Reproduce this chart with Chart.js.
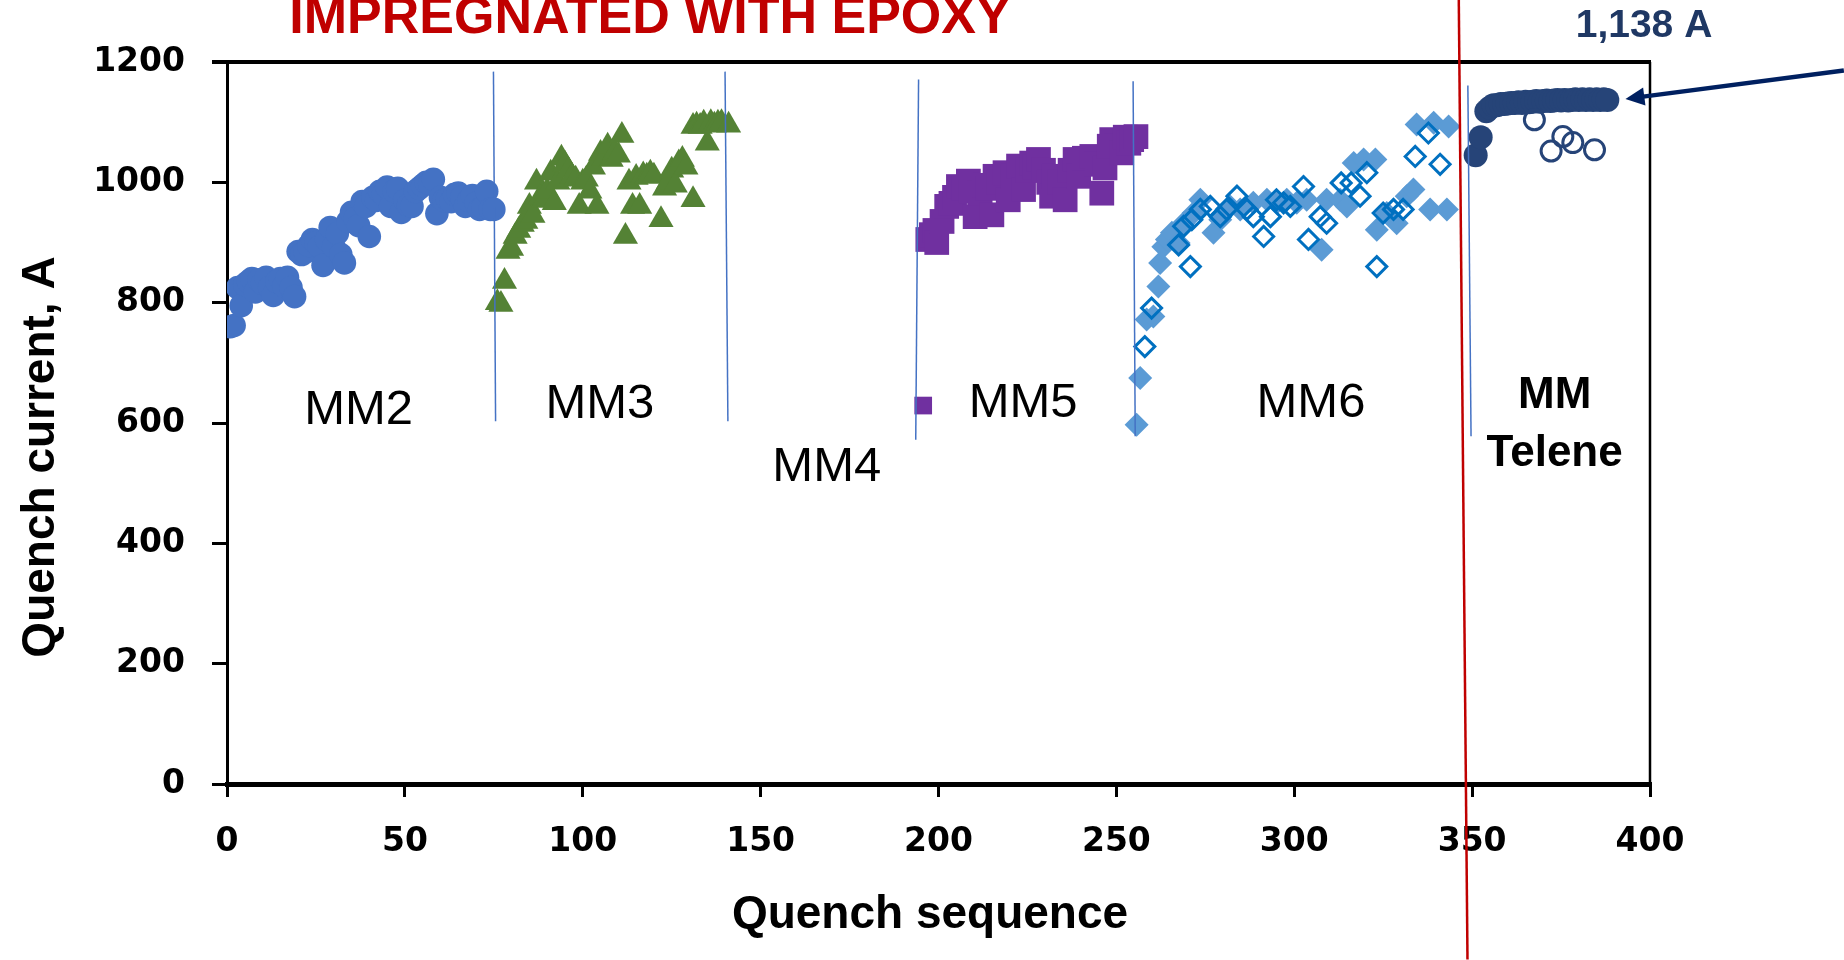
<!DOCTYPE html>
<html>
<head>
<meta charset="utf-8">
<script src="https://cdn.jsdelivr.net/npm/chart.js@4"></script>
<style>
  html, body { margin: 0; padding: 0; background: #fff; }
  #wrap { width: 1844px; height: 960px; position: relative; }
</style>
</head>
<body>
<div id="wrap"><canvas id="js-quench-chart"></canvas></div>
<script>
// Quench data: [quench sequence, quench current A]
const mm2 = [[1,760],[2,762],[3,825],[4,795],[5,830],[6,835],[7,840],[8,818],[9,838],[10,832],[11,842],[12,825],[13,812],[14,835],[15,840],[16,828],[17,842],[18,825],[19,810],[20,885],[21,880],[22,884],[23,895],[24,905],[25,900],[26,893],[27,862],[28,905],[29,925],[30,893],[31,915],[32,880],[33,866],[34,935],[35,950],[36,940],[37,928],[38,968],[39,960],[40,910],[41,975],[42,970],[43,985],[44,980],[45,992],[46,960],[47,985],[48,990],[49,950],[50,970],[51,962],[52,960],[53,985],[54,990],[55,995],[56,1000],[57,998],[58,1005],[59,948],[60,975],[61,970],[62,972],[63,968],[64,980],[65,982],[66,975],[67,960],[68,970],[69,978],[70,965],[71,955],[72,958],[73,985],[74,955],[75,955]];
const mm3 = [[76,800],[77,797],[78,835],[79,885],[80,890],[81,910],[82,920],[83,930],[84,935],[85,960],[86,945],[87,1000],[88,975],[89,970],[90,985],[91,1015],[92,966],[93,1000],[94,1040],[95,1030],[96,1020],[97,1010],[98,1005],[99,960],[100,1000],[101,1005],[102,985],[103,1025],[104,960],[105,1048],[106,1040],[107,1060],[108,1038],[109,1050],[110,1045],[111,1078],[112,910],[113,1000],[114,960],[115,1008],[116,960],[117,1012],[118,1010],[119,1015],[120,1010],[122,938],[123,990],[124,1000],[125,1020],[126,995],[127,1032],[128,1038],[129,1025],[131,971],[131,1093],[132,1095],[133,1093],[134,1098],[135,1065],[136,1099],[137,1095],[138,1098],[139,1099],[141,1095]];
const mm5 = [[197,905],[198,913],[199,920],[199.5,900],[201,935],[202.3,960],[203.5,965],[204.5,975],[205.6,993],[207,990],[208.4,1002],[209,985],[210.3,943],[211.7,982],[213,995],[214,990],[215,946],[215.9,1010],[217,1000],[218.7,1016],[219.6,971],[221,1010],[222.5,1027],[223.9,988],[225,1020],[226.2,1032],[227,1025],[228.1,1038],[229.5,1020],[231,1000],[231.8,977],[232.5,1010],[234,1000],[235.6,971],[237,1020],[238.4,1038],[239.4,1010],[241,1040],[243.1,1043],[244.5,1030],[245.9,982],[246.8,1024],[248,1060],[248.7,1071],[250,1060],[251.5,1049],[252.5,1075],[253.5,1065],[254.3,1071],[255.5,1076]];
const mm5Key = [[195.7,629]];
const mm6Solid = [[255.7,597],[256.7,675],[258.5,772],[260.4,777],[261.8,827],[262.3,866],[263.2,893],[264.2,905],[265.6,916],[267.5,899],[268.9,932],[271.7,949],[273.6,971],[277.3,916],[279.2,938],[282,960],[284.8,955],[288.5,966],[292.3,971],[295.1,966],[297.9,971],[300.7,966],[303.5,971],[307.7,888],[309.1,971],[312.9,971],[314.8,960],[316.7,1032],[319.5,1038],[322.8,1038],[323.2,921],[326,949],[328.8,932],[331.6,977],[333.5,988],[334.4,1096],[338.2,955],[339.2,1099],[342.9,955],[343.4,1093]];
const mm6Open = [[258,727],[259.9,791],[267.5,896],[270.8,860],[268.9,927],[271.2,938],[273.6,955],[276.4,960],[279.2,943],[281,955],[283.9,977],[286.7,955],[288.5,943],[291.4,910],[293.3,943],[295,971],[297,966],[298.9,960],[302.6,993],[304,905],[307.3,943],[309.1,932],[313.2,999],[316,999],[318.5,977],[320.4,1016],[323.2,860],[325,949],[327.9,955],[330.6,955],[334,1043],[337.7,1082],[341,1030]];
const teleneSolid = [[351,1045],[352.4,1075],[354,1118],[355,1124],[356,1128],[357,1128],[358,1130],[359,1130],[360,1131],[361,1132],[362,1132],[363,1133],[364,1132],[365,1134],[366,1133],[367,1134],[368,1135],[369,1134],[370,1135],[371,1136],[372,1135],[373,1136],[374,1137],[375,1136],[376,1137],[377,1136],[378,1137],[379,1138],[380,1137],[381,1138],[382,1137],[383,1138],[384,1137],[385,1138],[386,1137],[387,1138],[388,1137]];
const teleneOpen = [[367.5,1104],[372.2,1052],[375.5,1076],[378.3,1066],[384.4,1054]];

// Magnet divider lines: [x bottom, y bottom, x top, y top]
const dividers = [[75.5,603,74.9,1184],[140.8,603,140,1184],[193.6,572,194.4,1171],[255.3,578,254.7,1168],[349.7,578,348.8,1161]];

// Axis ticks
const xTickValues = [0, 50, 100, 150, 200, 250, 300, 350, 400];
const yTickValues = [0, 200, 400, 600, 800, 1000, 1200];

// Magnet names inside the plot
const magnetLabels = ['MM2', 'MM3', 'MM4', 'MM5', 'MM6'];
const magnetLabelX = [37, 104.8, 168.6, 223.8, 304.7];
const magnetLabelY = [620, 630, 526, 633, 633];
const teleneLabels = ['MM', 'Telene'];
const teleneLabelX = [373.2, 373.2];
const teleneLabelY = [645, 549];

// Red cut line and the arrow to the Telene plateau
const redLineX = [346.25, 348.7];
const redLineY = [1303.6, -291.8];
const arrowX = [454.5, 393.1];
const arrowY = [1186, 1138.6];

const pts = arr => arr.map(p => ({ x: p[0], y: p[1] }));

const dividerSets = dividers.map(d => ({
  data: [{ x: d[0], y: d[1] }, { x: d[2], y: d[3] }],
  showLine: true,
  borderColor: '#4472C4',
  borderWidth: 1.5,
  pointRadius: 0,
  order: 0,
}));

// Texts, frame, axis titles, red line and arrow
const overlay = {
  id: 'overlay',
  afterDraw(chart) {
    const { ctx, chartArea: a, scales: { x, y } } = chart;
    ctx.save();

    // top and right frame
    ctx.strokeStyle = '#000';
    ctx.lineWidth = 4;
    ctx.beginPath();
    ctx.moveTo(a.left - 15, a.top);
    ctx.lineTo(a.right + 1, a.top);
    ctx.stroke();
    ctx.lineWidth = 2.5;
    ctx.beginPath();
    ctx.moveTo(a.right, a.top);
    ctx.lineTo(a.right, a.bottom);
    ctx.stroke();

    ctx.fillStyle = '#000';
    ctx.textAlign = 'center';
    ctx.textBaseline = 'middle';
    ctx.font = '49px "Liberation Sans"';
    magnetLabels.forEach((t, i) => {
      ctx.fillText(t, x.getPixelForValue(magnetLabelX[i]), y.getPixelForValue(magnetLabelY[i]));
    });
    ctx.font = 'bold 44px "Liberation Sans"';
    teleneLabels.forEach((t, i) => {
      ctx.fillText(t, x.getPixelForValue(teleneLabelX[i]), y.getPixelForValue(teleneLabelY[i]));
    });

    // axis titles
    ctx.font = 'bold 46px "Liberation Sans"';
    ctx.fillText('Quench sequence', 930, 915);
    ctx.save();
    ctx.translate(41, 457);
    ctx.rotate(-Math.PI / 2);
    ctx.fillText('Quench current, A', 0, 0);
    ctx.restore();

    // red line
    ctx.strokeStyle = '#C00000';
    ctx.lineWidth = 2.5;
    ctx.beginPath();
    ctx.moveTo(x.getPixelForValue(redLineX[0]), y.getPixelForValue(redLineY[0]));
    ctx.lineTo(x.getPixelForValue(redLineX[1]), y.getPixelForValue(redLineY[1]));
    ctx.stroke();

    // arrow
    const x0 = x.getPixelForValue(arrowX[0]), y0 = y.getPixelForValue(arrowY[0]);
    const x1 = x.getPixelForValue(arrowX[1]), y1 = y.getPixelForValue(arrowY[1]);
    const ang = Math.atan2(y1 - y0, x1 - x0);
    ctx.strokeStyle = '#002060';
    ctx.fillStyle = '#002060';
    ctx.lineWidth = 4.5;
    ctx.beginPath();
    ctx.moveTo(x0, y0);
    ctx.lineTo(x1 - 12 * Math.cos(ang), y1 - 12 * Math.sin(ang));
    ctx.stroke();
    ctx.beginPath();
    ctx.moveTo(x1, y1);
    ctx.lineTo(x1 - 19 * Math.cos(ang) + 9 * Math.sin(ang), y1 - 19 * Math.sin(ang) - 9 * Math.cos(ang));
    ctx.lineTo(x1 - 19 * Math.cos(ang) - 9 * Math.sin(ang), y1 - 19 * Math.sin(ang) + 9 * Math.cos(ang));
    ctx.closePath();
    ctx.fill();

    // headline and value
    ctx.textBaseline = 'alphabetic';
    ctx.fillStyle = '#C00000';
    ctx.font = 'bold 52px "Liberation Sans"';
    ctx.fillText('IMPREGNATED WITH EPOXY', 650, 33);
    ctx.fillStyle = '#1F3864';
    ctx.font = 'bold 39px "Liberation Sans"';
    ctx.fillText('1,138 A', 1644, 37);

    ctx.restore();
  },
};

const tickFont = { family: 'DejaVu Sans', weight: 'bold', size: 33 };

const config = {
  type: 'scatter',
  data: {
    datasets: [
      ...dividerSets,
      { data: pts(mm2), pointStyle: 'circle', pointRadius: 11.8, backgroundColor: '#4472C4', borderWidth: 0, order: 3 },
      { data: pts(mm3), pointStyle: 'triangle', pointRadius: 14.5, backgroundColor: '#548235', borderWidth: 0, order: 3 },
      { data: pts(mm5), pointStyle: 'rect', pointRadius: 17.5, backgroundColor: '#7030A0', borderWidth: 0, order: 3 },
      { data: pts(mm5Key), pointStyle: 'rect', pointRadius: 12.5, backgroundColor: '#7030A0', borderWidth: 0, order: 3 },
      { data: pts(mm6Solid), pointStyle: 'rectRot', pointRadius: 12, backgroundColor: '#5B9BD5', borderWidth: 0, order: 3 },
      { data: pts(mm6Open), pointStyle: 'rectRot', pointRadius: 10, backgroundColor: 'rgba(255,255,255,0)', borderColor: '#0070C0', borderWidth: 3, order: 2 },
      { data: pts(teleneSolid), pointStyle: 'circle', pointRadius: 12, backgroundColor: '#264478', borderWidth: 0, order: 3 },
      { data: pts(teleneOpen), pointStyle: 'circle', pointRadius: 10, backgroundColor: 'rgba(255,255,255,0)', borderColor: '#264478', borderWidth: 3, order: 2 },
    ],
  },
  options: {
    responsive: true,
    maintainAspectRatio: false,
    animation: false,
    layout: { padding: { top: 62, right: 194, bottom: 0, left: 0 } },
    plugins: { legend: { display: false }, tooltip: { enabled: false } },
    scales: {
      x: {
        type: 'linear',
        min: 0,
        max: 400,
        afterFit: s => { s.height = 176; },
        afterBuildTicks: s => { s.ticks = xTickValues.map(v => ({ value: v })); },
        ticks: { font: tickFont, color: '#000', padding: 26, maxRotation: 0, autoSkip: false, callback: v => String(v) },
        grid: { drawOnChartArea: false, tickLength: 13, color: '#000', lineWidth: 3 },
        border: { color: '#000', width: 5 },
      },
      y: {
        type: 'linear',
        min: 0,
        max: 1200,
        afterFit: s => { s.width = 227; },
        afterBuildTicks: s => { s.ticks = yTickValues.map(v => ({ value: v })); },
        ticks: { font: tickFont, color: '#000', padding: 27, autoSkip: false, callback: v => String(v) },
        grid: { drawOnChartArea: false, tickLength: 15, color: '#000', lineWidth: 3 },
        border: { color: '#000', width: 3 },
      },
    },
  },
  plugins: [overlay],
};

new Chart(document.getElementById('js-quench-chart').getContext('2d'), config);
</script>
</body>
</html>
